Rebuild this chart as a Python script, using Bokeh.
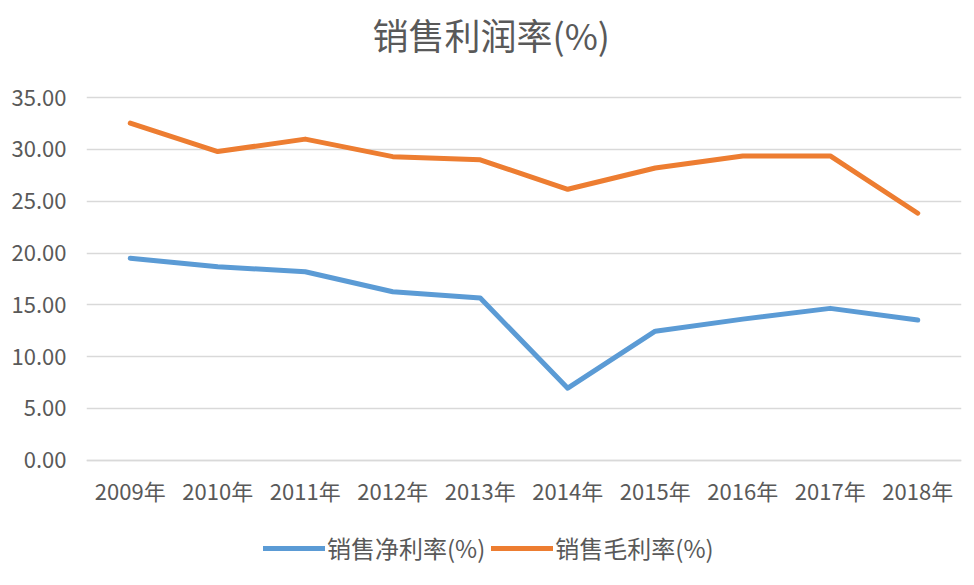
from bokeh.plotting import figure
from bokeh.models import (FactorRange, Range1d, FixedTicker, NumeralTickFormatter,
                          Legend, LegendItem)
from bokeh.embed import file_html
from bokeh.resources import INLINE

years = ["2009年", "2010年", "2011年", "2012年", "2013年",
         "2014年", "2015年", "2016年", "2017年", "2018年"]
net_margin = [19.49, 18.68, 18.19, 16.26, 15.65, 6.96, 12.46, 13.62, 14.66, 13.53]
gross_margin = [32.53, 29.79, 30.99, 29.30, 28.99, 26.15, 28.20, 29.37, 29.37, 23.84]
y_ticks = [0, 5, 10, 15, 20, 25, 30, 35]
series_names = ["销售净利率(%)", "销售毛利率(%)"]
title_text = "销售利润率(%)"

FONT = "Noto Sans CJK SC"
TXT = "#595959"

# frame extends beyond the 0..35 band to host the category labels and legend
p = figure(width=966, height=580, output_backend="svg", toolbar_location=None,
           x_range=FactorRange(*years, range_padding=0), y_range=Range1d(-11.31, 38.19),
           min_border_left=86, min_border_right=5, min_border_top=0, min_border_bottom=3)
p.outline_line_color = None
p.background_fill_color = "white"
p.border_fill_color = "white"

p.title.text = title_text
p.title.align = "left"
p.title.offset = 286
p.title.text_font = FONT
p.title.text_font_size = "36px"
p.title.text_font_style = "normal"
p.title.text_color = TXT
p.title.standoff = 10

r1 = p.line(years, net_margin, line_color="#5B9BD5", line_width=5, line_join="round", line_cap="round")
r2 = p.line(years, gross_margin, line_color="#ED7D31", line_width=5, line_join="round", line_cap="round")

p.yaxis.ticker = FixedTicker(ticks=y_ticks)
p.yaxis.formatter = NumeralTickFormatter(format="0.00")
p.yaxis.axis_line_color = None
p.yaxis.major_tick_line_color = None
p.yaxis.minor_tick_line_color = None
p.yaxis.major_label_text_font = FONT
p.yaxis.major_label_text_font_size = "22px"
p.yaxis.major_label_text_color = TXT
p.yaxis.major_label_standoff = 14

p.xaxis.fixed_location = 0
p.xaxis.axis_line_color = "#D9D9D9"
p.xaxis.axis_line_width = 1.5
p.xaxis.major_tick_line_color = None
p.xaxis.minor_tick_line_color = None
p.xaxis.major_label_text_font = FONT
p.xaxis.major_label_text_font_size = "22px"
p.xaxis.major_label_text_color = TXT
p.xaxis.major_label_standoff = 8

p.xgrid.grid_line_color = None
p.ygrid.grid_line_color = "#D9D9D9"
p.ygrid.grid_line_width = 1.5

legend = Legend(items=[LegendItem(label=series_names[0], renderers=[r1]),
                       LegendItem(label=series_names[1], renderers=[r2])],
                orientation="horizontal", location=(177, 12))
legend.border_line_color = None
legend.background_fill_alpha = 0
legend.label_text_font = FONT
legend.label_text_font_size = "24px"
legend.label_text_color = TXT
legend.glyph_width = 62
legend.glyph_height = 24
legend.label_standoff = 2
legend.spacing = 6
legend.padding = 0
legend.margin = 0
p.add_layout(legend)

open("out.html", "w").write(file_html(p, INLINE))
